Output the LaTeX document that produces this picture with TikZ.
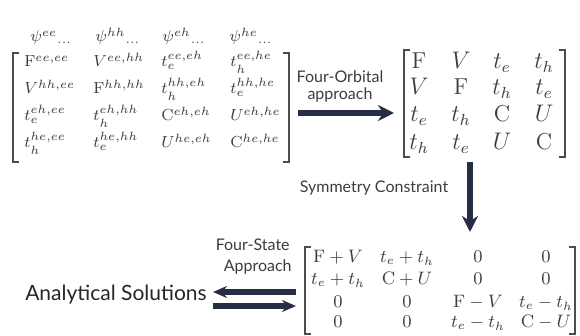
\documentclass[tikz,border=0pt]{standalone}
\usepackage{fontspec}
\setsansfont{Lato}
\usetikzlibrary{arrows.meta}
\definecolor{navy}{RGB}{38,46,68}
\definecolor{ink}{RGB}{60,60,60}
\begin{document}
\begin{tikzpicture}[x=0.5pt,y=-0.5pt,
  lbl/.style={font=\sffamily\fontsize{8}{9}\selectfont,text=ink,inner sep=0pt},
  bigl/.style={font=\sffamily\fontsize{10.5}{12}\selectfont,text=black!85,inner sep=0pt},
  ent/.style={anchor=base west,inner sep=0pt,text=ink,font=\fontsize{8}{9}\selectfont},
  hdr/.style={anchor=base west,inner sep=0pt,text=ink,font=\fontsize{8.5}{9}\selectfont},
  rent/.style={anchor=base,inner sep=0pt,text=ink,font=\fontsize{11.5}{13}\selectfont},
  bent/.style={anchor=base,inner sep=0pt,text=ink,font=\fontsize{9}{10}\selectfont},
  brk/.style={draw=black!70,line width=0.6pt},
  bigarrow/.style={draw=navy,line width=3pt,-{Stealth[length=8pt,width=8pt]}}]
\useasboundingbox (0,0) rectangle (580,336);

% ---- headers of left matrix
\node[hdr] (h1) at (30,42) {$\psi^{ee}{}_{\ldots}$};
\node[hdr] (h2) at (95,42) {$\psi^{hh}{}_{\ldots}$};
\node[hdr] (h3) at (162,42) {$\psi^{eh}{}_{\ldots}$};
\node[hdr] (h4) at (229,42) {$\psi^{he}{}_{\ldots}$};

% ---- left matrix entries
\node[ent] (a11) at (24,67) {$\mathrm{F}^{ee,ee}$};
\node[ent] (a12) at (93,67) {$V^{ee,hh}$};
\node[ent] (a13) at (161,67) {$t_e^{ee,eh}$};
\node[ent] (a14) at (230,67) {$t_h^{ee,he}$};
\node[ent] (a21) at (24,94) {$V^{hh,ee}$};
\node[ent] (a22) at (93,94) {$\mathrm{F}^{hh,hh}$};
\node[ent] (a23) at (161,94) {$t_h^{hh,eh}$};
\node[ent] (a24) at (230,94) {$t_e^{hh,he}$};
\node[ent] (a31) at (24,121) {$t_e^{eh,ee}$};
\node[ent] (a32) at (93,121) {$t_h^{eh,hh}$};
\node[ent] (a33) at (161,121) {$\mathrm{C}^{eh,eh}$};
\node[ent] (a34) at (230,121) {$U^{eh,he}$};
\node[ent] (a41) at (24,148) {$t_h^{he,ee}$};
\node[ent] (a42) at (93,148) {$t_e^{he,hh}$};
\node[ent] (a43) at (161,148) {$U^{he,eh}$};
\node[ent] (a44) at (230,148) {$\mathrm{C}^{he,he}$};
\draw[brk] (19,53) -- (13,53) -- (13,162) -- (19,162);
\draw[brk] (283,53) -- (289,53) -- (289,162) -- (283,162);

% ---- right matrix
\node[rent] (b11) at (419,69) {$\mathrm{F}$};
\node[rent] (b12) at (461,69) {$V$};
\node[rent] (b13) at (502,69) {$t_e$};
\node[rent] (b14) at (544,69) {$t_h$};
\node[rent] (b21) at (419,95) {$V$};
\node[rent] (b22) at (461,95) {$\mathrm{F}$};
\node[rent] (b23) at (502,95) {$t_h$};
\node[rent] (b24) at (544,95) {$t_e$};
\node[rent] (b31) at (419,122) {$t_e$};
\node[rent] (b32) at (461,122) {$t_h$};
\node[rent] (b33) at (502,122) {$\mathrm{C}$};
\node[rent] (b34) at (544,122) {$U$};
\node[rent] (b41) at (419,150) {$t_h$};
\node[rent] (b42) at (461,150) {$t_e$};
\node[rent] (b43) at (502,150) {$U$};
\node[rent] (b44) at (544,150) {$\mathrm{C}$};
\draw[brk] (410,50) -- (404,50) -- (404,157) -- (410,157);
\draw[brk] (559,50) -- (565,50) -- (565,157) -- (559,157);

% ---- bottom matrix
\node[bent] (c11) at (338,263) {$\mathrm{F}+V$};
\node[bent] (c12) at (407,263) {$t_e+t_h$};
\node[bent] (c13) at (478,263) {$0$};
\node[bent] (c14) at (546,263) {$0$};
\node[bent] (c21) at (338,285) {$t_e+t_h$};
\node[bent] (c22) at (407,285) {$\mathrm{C}+U$};
\node[bent] (c23) at (478,285) {$0$};
\node[bent] (c24) at (546,285) {$0$};
\node[bent] (c31) at (338,308) {$0$};
\node[bent] (c32) at (407,308) {$0$};
\node[bent] (c33) at (478,308) {$\mathrm{F}-V$};
\node[bent] (c34) at (546,308) {$t_e-t_h$};
\node[bent] (c41) at (338,328) {$0$};
\node[bent] (c42) at (407,328) {$0$};
\node[bent] (c43) at (478,328) {$t_e-t_h$};
\node[bent] (c44) at (546,328) {$\mathrm{C}-U$};
\draw[brk] (311,247) -- (305,247) -- (305,334) -- (311,334);
\draw[brk] (569,247) -- (575,247) -- (575,334) -- (569,334);

% ---- labels
\node[lbl] (fo1) at (340,77) {Four-Orbital};
\node[lbl] (fo2) at (340,95) {approach};
\node[lbl] (sym) at (374,188) {Symmetry Constraint};
\node[lbl,anchor=east] (fs1) at (290,245) {Four-State};
\node[lbl,anchor=east] (fs2) at (292,267) {Approach};
\node[bigl] (ana) at (116,295) {Analytical Solutions};

% ---- arrows
\coordinate (p1) at (298,113);
\coordinate (p2) at (394,113);
\coordinate (q1) at (470,162);
\coordinate (q2) at (470,232);
\coordinate (r1) at (296,292);
\coordinate (r2) at (213,292);
\coordinate (s1) at (213,306);
\coordinate (s2) at (296,306);
\draw[bigarrow] (p1) -- (p2);
\draw[bigarrow] (q1) -- (q2);
\draw[bigarrow,line width=2.6pt,-{Stealth[length=7pt,width=6pt]}] (r1) -- (r2);
\draw[bigarrow,line width=2.6pt,-{Stealth[length=7pt,width=6pt]}] (s1) -- (s2);
\end{tikzpicture}
\end{document}
